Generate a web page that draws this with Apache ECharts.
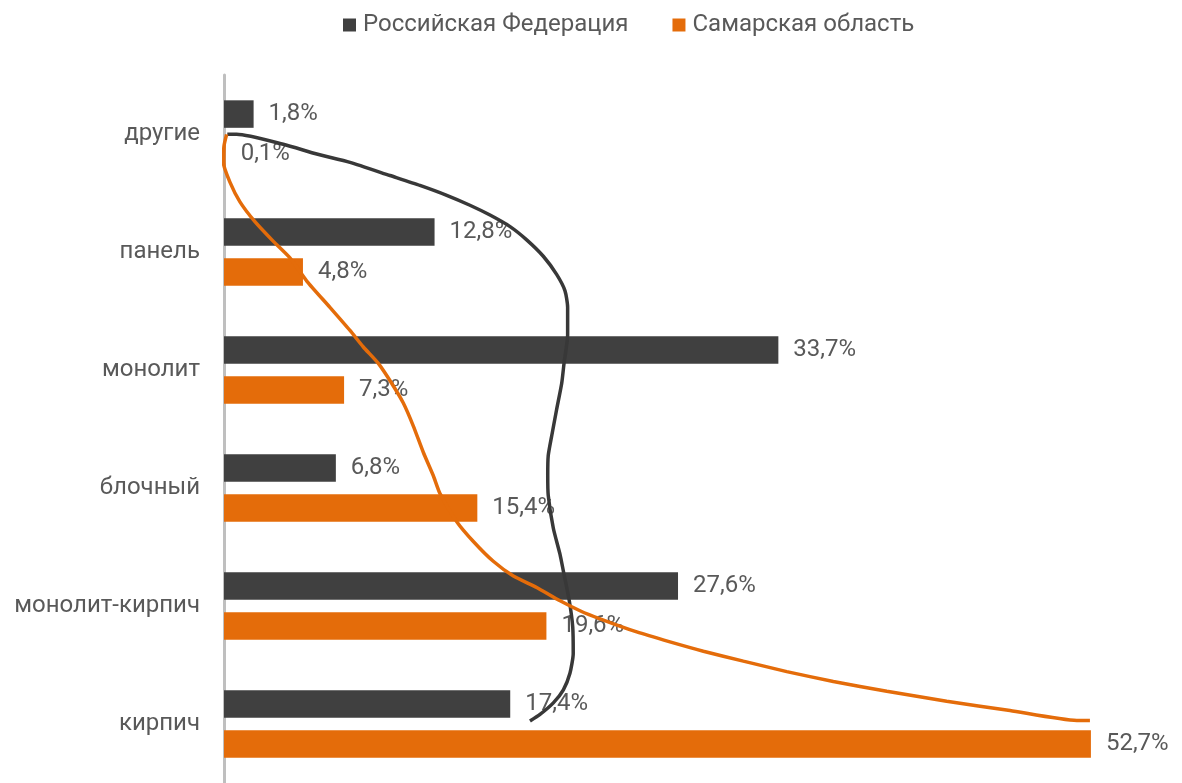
<!DOCTYPE html>
<html>
<head>
<meta charset="utf-8">
<script src="https://cdn.jsdelivr.net/npm/echarts@6/dist/echarts.min.js"></script>
<style>
html,body{margin:0;padding:0;background:#fff;}
#chart{width:1182px;height:783px;}
</style>
</head>
<body>
<div id="chart"></div>
<script>
// ---- data ----
var categories = ['другие', 'панель', 'монолит', 'блочный', 'монолит-кирпич', 'кирпич'];
var seriesNames = ['Российская Федерация', 'Самарская область'];
var rfValues = [1.8, 12.8, 33.7, 6.8, 27.6, 17.4];
var samaraValues = [0.1, 4.8, 7.3, 15.4, 19.6, 52.7];
// decorative hand-drawn strokes: [x in %, y in category units from top]
var darkStroke = [
  [0.20,0.503],[0.77,0.503],[3.60,0.587],[5.64,0.670],[7.66,0.740],[10.09,0.852],[11.91,0.936],
  [13.54,1.020],[14.95,1.104],[16.17,1.187],[17.39,1.285],[18.40,1.397],[19.41,1.536],[20.22,1.690],
  [20.73,1.829],[20.89,1.969],[20.89,2.206],[20.67,2.444],[20.53,2.612],[20.22,2.835],[19.92,3.059],
  [19.71,3.226],[19.68,3.394],[19.71,3.562],[20.02,3.841],[20.43,4.064],[20.63,4.204],[20.99,4.456],
  [21.20,4.679],[21.23,4.902],[21.03,5.070],[20.63,5.210],[20.02,5.321],[19.21,5.419],[18.60,5.475]
];
var orangeStroke = [
  [0.16,0.503],[0.00,0.601],[-0.04,0.740],[0.36,0.908],[0.97,1.075],[1.88,1.243],[3.00,1.410],
  [4.01,1.550],[5.03,1.746],[6.44,1.969],[7.66,2.165],[8.47,2.305],[9.38,2.444],[10.19,2.612],
  [10.90,2.780],[11.51,2.975],[12.12,3.199],[12.72,3.394],[13.13,3.547],[14.15,3.785],[15.16,3.953],
  [16.37,4.121],[17.59,4.246],[19.01,4.343],[20.43,4.456],[21.64,4.540],[22.86,4.609],[25.09,4.720],
  [27.11,4.804],[29.14,4.883],[31.57,4.967],[34.21,5.056],[37.04,5.140],[40.29,5.223],[43.93,5.307],
  [47.78,5.386],[51.84,5.470],[52.64,5.470]
];
var xMax = 55;

var darkColor = '#404040';
var orangeColor = '#E46C0A';
var textColor = '#595959';
var font = 'Roboto';

function fmt(p) { return p.value.toFixed(1).replace('.', ',') + '%'; }

var chart = echarts.init(document.getElementById('chart'), null, {renderer: 'canvas'});
chart.setOption({
  animation: false,
  textStyle: {fontFamily: font},
  legend: {
    data: seriesNames,
    left: 338,
    top: 8,
    icon: 'rect',
    itemWidth: 13,
    itemHeight: 13,
    itemGap: 44,
    textStyle: {fontSize: 24, color: textColor, fontFamily: font, padding: [0, 0, 0, 2]}
  },
  grid: {left: 224, top: 75, width: xMax * 16.45, height: 714, containLabel: false},
  xAxis: {
    type: 'value', min: 0, max: xMax, show: false,
    splitLine: {show: false}
  },
  yAxis: [
    {
      type: 'category', data: categories, inverse: true,
      axisLine: {show: true, lineStyle: {color: '#BFBFBF', width: 3}},
      axisTick: {show: false},
      axisLabel: {fontSize: 24, color: textColor, fontFamily: font, margin: 24}
    },
    {
      type: 'value', min: 0, max: 6, inverse: true, show: false
    }
  ],
  series: [
    {
      name: seriesNames[0], type: 'bar', data: rfValues,
      barWidth: 27.5, barGap: '45%',
      itemStyle: {color: darkColor},
      label: {show: true, position: 'right', distance: 15, formatter: fmt,
        fontSize: 24, color: textColor, fontFamily: font},
      z: 2
    },
    {
      name: seriesNames[1], type: 'bar', data: samaraValues,
      barWidth: 27.5, barGap: '45%',
      itemStyle: {color: orangeColor},
      label: {show: true, position: 'right', distance: 15, formatter: fmt,
        fontSize: 24, color: textColor, fontFamily: font},
      z: 2
    },
    {
      name: 'strokeDark', type: 'line', yAxisIndex: 1, data: darkStroke,
      showSymbol: false, symbol: 'none', smooth: 0.2, clip: false,
      lineStyle: {color: '#383838', width: 3.5}, z: 5, silent: true
    },
    {
      name: 'strokeOrange', type: 'line', yAxisIndex: 1, data: orangeStroke,
      showSymbol: false, symbol: 'none', smooth: 0.2, clip: false,
      lineStyle: {color: orangeColor, width: 3.5}, z: 5, silent: true
    }
  ]
});
</script>
</body>
</html>
